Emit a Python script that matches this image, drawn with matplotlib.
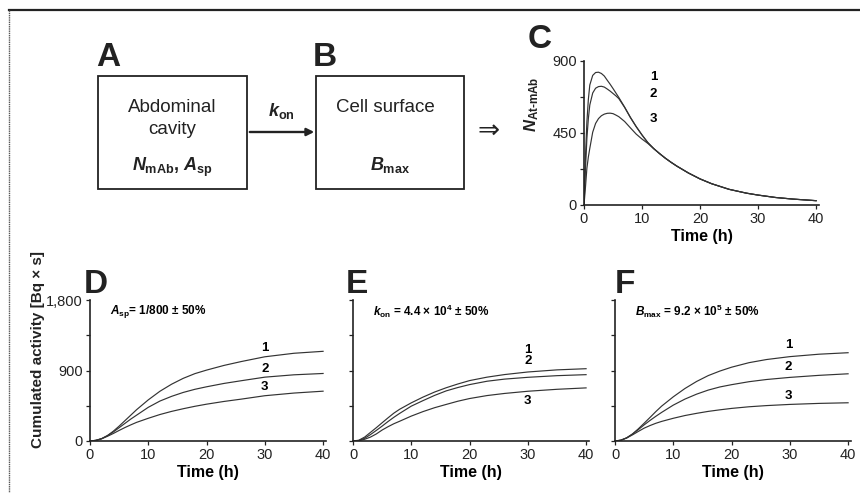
import matplotlib
matplotlib.use('Agg')
import matplotlib.pyplot as plt
from matplotlib.patches import Rectangle, FancyArrowPatch

plt.rcParams['font.family'] = ['Liberation Sans', 'DejaVu Sans']
plt.rcParams['mathtext.fontset'] = 'custom'
plt.rcParams['mathtext.rm'] = 'Liberation Sans:bold'
plt.rcParams['mathtext.it'] = 'Liberation Sans:bold:italic'
plt.rcParams['mathtext.bf'] = 'Liberation Sans:bold'

# panel C: number of bound At-mAb over time
t_c = [0, 0.25, 0.5, 0.75, 1, 1.5, 2, 2.5, 3, 3.5, 4, 4.5, 5, 5.5, 6, 7, 8, 9, 10, 11, 12,
       13, 14, 15, 16, 18, 20, 22, 25, 28, 30, 33, 36, 40]
c1 = [0, 300, 520, 660, 750, 810, 828, 830, 822, 806, 780, 755, 728, 700, 672, 612, 548, 490, 438, 390, 353,
      322, 293, 267, 243, 200, 163, 133, 98, 74, 62, 47, 37, 27]
c2 = [0, 220, 417, 540, 625, 700, 730, 740, 742, 737, 725, 712, 697, 682, 665, 610, 546, 489, 437, 390, 353,
      322, 293, 267, 243, 200, 163, 133, 98, 74, 62, 47, 37, 27]
c3 = [0, 110, 230, 300, 354, 455, 510, 540, 558, 568, 573, 574, 571, 562, 552, 522, 482, 443, 412, 385, 353,
      322, 293, 267, 243, 200, 163, 133, 98, 74, 62, 47, 37, 27]

# panels D, E, F: cumulated activity
t_a = [0, 1, 2, 3, 4, 5, 6, 7, 8, 10, 12, 14, 16, 18, 20, 23, 26, 30, 35, 40]
d1 = [0, 8, 30, 70, 125, 190, 260, 330, 400, 525, 635, 725, 800, 860, 905, 965, 1015, 1075, 1120, 1145]
d2 = [0, 8, 30, 68, 115, 170, 225, 280, 330, 430, 510, 570, 620, 660, 692, 735, 770, 815, 845, 862]
d3 = [0, 8, 28, 60, 96, 135, 172, 206, 238, 290, 338, 378, 412, 443, 470, 505, 535, 578, 612, 636]
e1 = [0, 10, 50, 110, 170, 233, 295, 355, 405, 487, 560, 625, 680, 728, 771, 815, 848, 881, 908, 923]
e2 = [0, 6, 35, 82, 135, 190, 248, 302, 352, 445, 515, 582, 640, 683, 720, 763, 790, 813, 834, 847]
e3 = [0, 4, 22, 50, 90, 140, 182, 220, 252, 318, 375, 425, 467, 508, 542, 580, 607, 635, 660, 678]
f1 = [0, 10, 40, 90, 155, 227, 300, 375, 445, 564, 670, 760, 835, 893, 942, 1000, 1040, 1077, 1108, 1127]
f2 = [0, 10, 40, 88, 145, 206, 262, 315, 365, 458, 535, 598, 650, 690, 719, 757, 785, 812, 838, 858]
f3 = [0, 10, 38, 78, 122, 164, 197, 226, 250, 290, 325, 353, 378, 398, 416, 437, 452, 467, 480, 488]

W, H = 860, 493
INK = '#222222'
fig = plt.figure(figsize=(W / 100, H / 100), dpi=100)

# background layer in pixel coordinates for the diagram
bg = fig.add_axes([0, 0, 1, 1])
bg.set_xlim(0, W)
bg.set_ylim(H, 0)
bg.axis('off')
bg.plot([9, W], [9.5, 9.5], color=INK, lw=1.6)
bg.plot([9, 9], [9.5, H], color='#555555', lw=1.0, ls=(0, (1, 0.6)))

bg.add_patch(Rectangle((98, 76), 149, 113, fill=False, lw=1.3, ec=INK))
bg.add_patch(Rectangle((316, 76), 148, 113, fill=False, lw=1.3, ec=INK))
bg.add_patch(FancyArrowPatch((247, 132), (317, 132), arrowstyle='-|>', mutation_scale=11,
                             lw=1.7, color=INK))
for lab, x, y in [('A', 96, 66), ('B', 313, 66), ('C', 528, 48),
                  ('D', 84, 293), ('E', 346, 293), ('F', 615, 293)]:
    bg.text(x, y, lab, fontsize=24, fontweight='bold', color=INK)

bg.text(172, 107, 'Abdominal', fontsize=13.5, ha='center', va='center', color=INK)
bg.text(172, 129, 'cavity', fontsize=13.5, ha='center', va='center', color=INK)
bg.text(172, 167, r'$N_{\mathrm{mAb}}$, $A_{\mathrm{sp}}$', fontsize=13, ha='center', va='center',
        fontweight='bold', color=INK)
bg.text(281, 111, r'$k_{\mathrm{on}}$', fontsize=13, ha='center', va='center', color=INK)
bg.text(385, 107, 'Cell surface', fontsize=13.5, ha='center', va='center', color=INK)
bg.text(390, 165, r'$B_{\mathrm{max}}$', fontsize=13, ha='center', va='center', color=INK)
bg.text(489, 131, '⇒', fontsize=19, ha='center', va='center', color=INK,
        family=['DejaVu Sans'])

bg.text(38, 350, 'Cumulated activity [Bq × s]', fontsize=11, fontweight='bold', rotation=90,
        ha='center', va='center', color=INK)
bg.text(532, 104, r'$N_{\mathrm{At\text{-}mAb}}$', fontsize=12, rotation=90, ha='center',
        va='center', color=INK)


def style(ax, xlim, ylim, major, minor, labels):
    ax.set_xlim(*xlim)
    ax.set_ylim(*ylim)
    for s in ['top', 'right']:
        ax.spines[s].set_visible(False)
    for s in ['left', 'bottom']:
        ax.spines[s].set_linewidth(1.2)
        ax.spines[s].set_color(INK)
    ax.set_xticks([0, 10, 20, 30, 40])
    ax.set_yticks(major)
    ax.set_yticks(minor, minor=True)
    ax.set_yticklabels(labels)
    ax.tick_params(direction='out', length=3, width=0.9, labelsize=10.5, pad=2, colors=INK)
    ax.tick_params(which='minor', direction='out', length=3, width=0.9, colors=INK)
    ax.patch.set_alpha(0)


# panel C
axc = fig.add_axes([584 / W, 1 - 205 / H, 235 / W, 144 / H])
for y in [c1, c2, c3]:
    axc.plot(t_c, y, color='#333333', lw=0.85)
style(axc, (0, 40.5), (0, 900), [0, 450, 900], [225, 675], ['0', '450', '900'])
axc.set_xlabel('Time (h)', fontsize=11.5, fontweight='bold', labelpad=2)
for lab, yv in zip(['1', '2', '3'], [800, 694, 537]):
    axc.text(12, yv, lab, fontsize=9.5, fontweight='bold', ha='center', va='center')

panels = [
    (90, [d1, d2, d3], r'$A_{\mathrm{sp}}$= 1/800 ± 50%', [1187, 919, 689], 30),
    (353, [e1, e2, e3], r'$k_{\mathrm{on}}$ = 4.4 × 10$^{4}$ ± 50%', [1160, 1020, 510], 30),
    (615, [f1, f2, f3], r'$B_{\mathrm{max}}$ = 9.2 × 10$^{5}$ ± 50%', [1225, 945, 576], 29.8),
]
for i, (x0, series, note, ypos, xlab) in enumerate(panels):
    ax = fig.add_axes([x0 / W, 1 - 441 / H, 236 / W, 141 / H])
    for y in series:
        ax.plot(t_a, y, color='#333333', lw=0.85)
    labels = ['0', '900', '1,800'] if i == 0 else ['', '', '']
    style(ax, (0, 40.5), (0, 1800), [0, 900, 1800], [450, 1350], labels)
    ax.set_xlabel('Time (h)', fontsize=11.5, fontweight='bold', labelpad=2)
    ax.text(3.5, 1650, note, fontsize=8.5, fontweight='bold', va='center')
    for lab, yv in zip(['1', '2', '3'], ypos):
        ax.text(xlab, yv, lab, fontsize=9.5, fontweight='bold', ha='center', va='center')

fig.savefig('out.png', dpi=100)
